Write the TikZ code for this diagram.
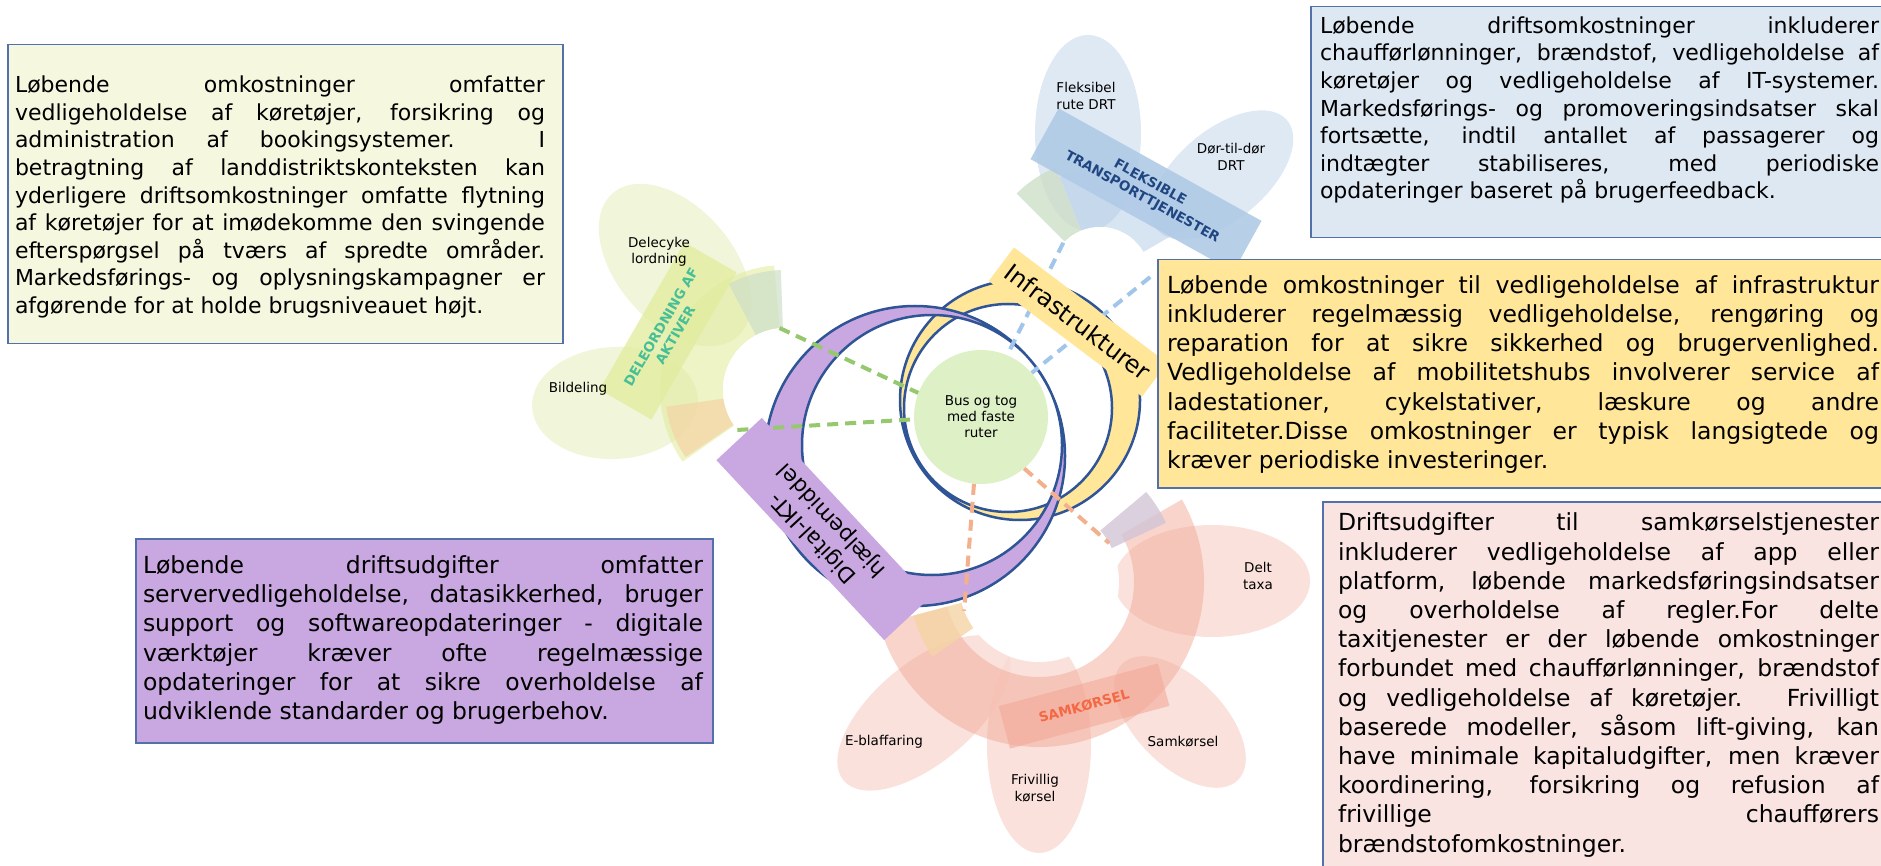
\documentclass[tikz,border=0pt]{standalone}
\usepackage{fontspec}
\setmainfont{DejaVu Sans}
\hyphenpenalty=10000
\exhyphenpenalty=10000
\definecolor{edge}{RGB}{84,112,170}
\definecolor{ringedge}{RGB}{47,85,151}
\definecolor{greenbox}{RGB}{245,247,222}
\definecolor{bluebox}{RGB}{222,232,243}
\definecolor{yellowbox}{RGB}{255,230,153}
\definecolor{pinkbox}{RGB}{250,228,225}
\definecolor{purplebox}{RGB}{201,168,226}
\definecolor{busgreen}{RGB}{222,240,198}
\definecolor{greenpetal}{RGB}{238,243,208}
\definecolor{greenband}{RGB}{226,236,160}
\definecolor{tealwedge}{RGB}{205,222,200}
\definecolor{orangewedge}{RGB}{245,212,165}
\definecolor{bluepetal}{RGB}{214,227,241}
\definecolor{blueband}{RGB}{176,202,230}
\definecolor{redpetal}{RGB}{249,218,211}
\definecolor{redband}{RGB}{243,170,152}
\definecolor{graywedge}{RGB}{210,196,214}
\definecolor{tealtext}{RGB}{70,190,150}
\definecolor{navytext}{RGB}{32,70,130}
\definecolor{orangetext}{RGB}{244,104,68}
\definecolor{dashgreen}{RGB}{150,200,110}
\definecolor{dashblue}{RGB}{162,198,234}
\definecolor{dashorange}{RGB}{244,176,140}
\tikzset{ box/.style  = { draw         = edge
                        , line width   = 1.5pt
                        , inner sep    = 0pt
                        , anchor       = north west
                        },
          txt/.style  = { align        = justify
                        , inner sep    = 0pt
                        , font         = \fontsize{22}{27.6}\selectfont
                        },
          Txt/.style  = { align        = justify
                        , inner sep    = 0pt
                        , font         = \fontsize{23.5}{29.2}\selectfont
                        },
          lbl/.style  = { align        = center
                        , inner sep    = 0pt
                        , font         = \fontsize{13.5}{16.5}\selectfont
                        },
          hub/.style  = { circle
                        , fill         = white
                        , inner sep    = 0pt
                        },
          bus/.style  = { circle
                        , fill         = busgreen
                        , inner sep    = 0pt
                        , minimum size = 134pt
                        , align        = center
                        , font         = \fontsize{13.5}{16}\selectfont
                        },
          band/.style = { inner sep    = 0pt
                        , align        = center
                        , text opacity = 1
                        , font         = \bfseries\fontsize{13.5}{16.5}\selectfont
                        },
          tag/.style  = { inner sep    = 0pt
                        , align        = center
                        , font         = \fontsize{21.5}{26}\selectfont
                        },
          link/.style = { line width   = 4pt
                        , dash pattern = on 11pt off 7pt
                        },
          ring/.style = { draw         = ringedge
                        , line width   = 2.5pt
                        , even odd rule
                        }
        }
\begin{document}
\begin{tikzpicture}[x=1pt, y=-1pt]
\useasboundingbox (0,0) rectangle (1881,866);
\clip (0,0) rectangle (1881,866);

% deleordning af aktiver
\fill[greenpetal, fill opacity=.8, rotate around={-49:(675,265)}] (675,265) ellipse (95pt and 58pt);
\fill[greenpetal, fill opacity=.8, rotate around={3:(615,403)}] (615,403) ellipse (83pt and 56pt);
\fill[greenband, fill opacity=.6] (785,390) ++(95:62pt) arc[start angle=95, end angle=215, radius=62pt]
    -- ++(215:63pt) arc[start angle=215, end angle=95, radius=125pt] -- cycle;
\fill[tealwedge, fill opacity=.7] (785,390) ++(92:62pt) arc[start angle=92, end angle=118, radius=62pt]
    -- ++(118:58pt) arc[start angle=118, end angle=92, radius=120pt] -- cycle;
\fill[orangewedge, fill opacity=.7] (785,390) ++(188:62pt) arc[start angle=188, end angle=214, radius=62pt]
    -- ++(214:58pt) arc[start angle=214, end angle=188, radius=120pt] -- cycle;
\node[band, fill=greenband, fill opacity=.8, text=tealtext, rotate=60,
      minimum width=170pt, minimum height=60pt] (dele) at (668,331) {DELEORDNING AF\\AKTIVER};
\node[hub, minimum size=124pt] (hubG) at (785,390) {};
\node[lbl] (cykel) at (659,252) {Delecyke\\lordning};
\node[lbl] (bil) at (578,389) {Bildeling};

% fleksible transporttjenester
\fill[bluepetal, fill opacity=.8] (1088,133) ellipse (53pt and 98pt);
\fill[bluepetal, fill opacity=.8, rotate around={40:(1222,175)}] (1222,175) ellipse (85pt and 45pt);
\fill[blueband, fill opacity=.5] (1100,277) ++(30:50pt) arc[start angle=30, end angle=112, radius=50pt]
    -- ++(112:58pt) arc[start angle=112, end angle=30, radius=108pt] -- cycle;
\fill[tealwedge, fill opacity=.8] (1100,277) ++(112:50pt) arc[start angle=112, end angle=135, radius=50pt]
    -- ++(135:68pt) arc[start angle=135, end angle=112, radius=118pt] -- cycle;
\node[band, fill=blueband, fill opacity=.9, text=navytext, rotate=-29,
      minimum width=232pt, minimum height=58pt] (fleks) at (1146,190) {FLEKSIBLE\\TRANSPORTTJENESTER};
\node[hub, minimum size=100pt] (hubB) at (1100,277) {};
\node[lbl] (rute) at (1086,96) {Fleksibel\\rute DRT};
\node[lbl] (dor) at (1231,157) {Dør-til-dør\\DRT};

% samkoersel
\fill[redpetal, fill opacity=.8, rotate around={40:(924,713)}] (924,713) ellipse (105pt and 50pt);
\fill[redpetal, fill opacity=.8] (1039,745) ellipse (52pt and 108pt);
\fill[redpetal, fill opacity=.8, rotate around={-45:(1180,722)}] (1180,722) ellipse (82pt and 44pt);
\fill[redpetal, fill opacity=.8] (1212,581) ellipse (98pt and 56pt);
\fill[redband, fill opacity=.5] (1039,582) ++(195:95pt) arc[start angle=195, end angle=390, radius=95pt]
    -- ++(30:70pt) arc[start angle=390, end angle=195, radius=165pt] -- cycle;
\fill[orangewedge, fill opacity=.8] (1039,582) ++(195:80pt) arc[start angle=195, end angle=215, radius=80pt]
    -- ++(215:50pt) arc[start angle=215, end angle=195, radius=130pt] -- cycle;
\fill[graywedge, fill opacity=.8] (1039,582) ++(25:80pt) arc[start angle=25, end angle=40, radius=80pt]
    -- ++(40:60pt) arc[start angle=40, end angle=25, radius=140pt] -- cycle;
\node[band, fill=redband, fill opacity=.6, text=orangetext, rotate=15,
      minimum width=165pt, minimum height=44pt] (samk) at (1084,706) {SAMKØRSEL};
\node[hub, minimum size=160pt] (hubR) at (1039,582) {};
\node[lbl] (taxa) at (1258,576) {Delt\\taxa};
\node[lbl] (samkor) at (1183,742) {Samkørsel};
\node[lbl] (friv) at (1035,788) {Frivillig\\kørsel};
\node[lbl] (eblaf) at (884,742) {E-blaffaring};

% midten
\node[bus] (bus) at (981,417) {Bus og tog\\med faste\\ruter};
\path[ring, fill=yellowbox] (1020,400) circle (120pt) (1008,408) circle (104pt);
\path[ring, fill=purplebox] (915,456) circle (150pt) (932,445) circle (130pt);

\draw[link, dashgreen]  (hubG.95)  -- (bus.159);
\draw[link, dashgreen]  (hubG.220) -- (bus.182);
\draw[link, dashblue]   (hubB.137) -- (bus.67);
\draw[link, dashblue]   (hubB.0)   -- (bus.41);
\draw[link, dashorange] (bus.264)  -- (hubR.201);
\draw[link, dashorange] (bus.310)  -- (hubR.29);

\node[tag, fill=purplebox, rotate=133, minimum width=246pt, minimum height=62pt]
    (digital) at (823,529) {Digital-IKT-\\hjælpemiddel};
\node[tag, fill=yellowbox, rotate=-37, minimum width=192pt, minimum height=42pt,
      font=\fontsize{24}{24}\selectfont] (infra) at (1078,322) {Infrastrukturer};

% tekstbokse
\node[box, fill=greenbox, minimum width=555pt, minimum height=299pt] (boxG) at (7,44) {};
\node[txt, text width=530pt] (txtG) at (280,197) {Løbende omkostninger omfatter\linebreak
vedligeholdelse af køretøjer, forsikring og\linebreak
administration af bookingsystemer. I\linebreak
betragtning af landdistriktskonteksten kan\linebreak
yderligere driftsomkostninger omfatte flytning\linebreak
af køretøjer for at imødekomme den svingende\linebreak
efterspørgsel på tværs af spredte områder.\linebreak
Markedsførings- og oplysningskampagner er\linebreak
afgørende for at holde brugsniveauet højt.};

\node[box, fill=bluebox, minimum width=590pt, minimum height=231pt] (boxB) at (1310,6) {};
\node[txt, text width=559pt] (txtB) at (1599.5,110) {Løbende driftsomkostninger inkluderer\linebreak
chaufførlønninger, brændstof, vedligeholdelse af\linebreak
køretøjer og vedligeholdelse af IT-systemer.\linebreak
Markedsførings- og promoveringsindsatser skal\linebreak
fortsætte, indtil antallet af passagerer og\linebreak
indtægter stabiliseres, med periodiske\linebreak
opdateringer baseret på brugerfeedback.};

\node[box, fill=yellowbox, minimum width=740pt, minimum height=228pt] (boxY) at (1157,259) {};
\node[Txt, text width=712pt] (txtY) at (1523,374.5) {Løbende omkostninger til vedligeholdelse af infrastruktur\linebreak
inkluderer regelmæssig vedligeholdelse, rengøring og\linebreak
reparation for at sikre sikkerhed og brugervenlighed.\linebreak
Vedligeholdelse af mobilitetshubs involverer service af\linebreak
ladestationer, cykelstativer, læskure og andre\linebreak
faciliteter.Disse omkostninger er typisk langsigtede og\linebreak
kræver periodiske investeringer.};

\node[box, fill=pinkbox, minimum width=580pt, minimum height=380pt] (boxR) at (1322,501) {};
\node[Txt, text width=541pt] (txtR) at (1608.5,685) {Driftsudgifter til samkørselstjenester\linebreak
inkluderer vedligeholdelse af app eller\linebreak
platform, løbende markedsføringsindsatser\linebreak
og overholdelse af regler.For delte\linebreak
taxitjenester er der løbende omkostninger\linebreak
forbundet med chaufførlønninger, brændstof\linebreak
og vedligeholdelse af køretøjer. Frivilligt\linebreak
baserede modeller, såsom lift-giving, kan\linebreak
have minimale kapitaludgifter, men kræver\linebreak
koordinering, forsikring og refusion af\linebreak
frivillige chaufførers\linebreak
brændstofomkostninger.};

\node[box, fill=purplebox, minimum width=577pt, minimum height=204pt] (boxP) at (135,538) {};
\node[Txt, text width=560pt] (txtP) at (423,640) {Løbende driftsudgifter omfatter\linebreak
servervedligeholdelse, datasikkerhed, bruger\linebreak
support og softwareopdateringer - digitale\linebreak
værktøjer kræver ofte regelmæssige\linebreak
opdateringer for at sikre overholdelse af\linebreak
udviklende standarder og brugerbehov.};
\end{tikzpicture}
\end{document}
